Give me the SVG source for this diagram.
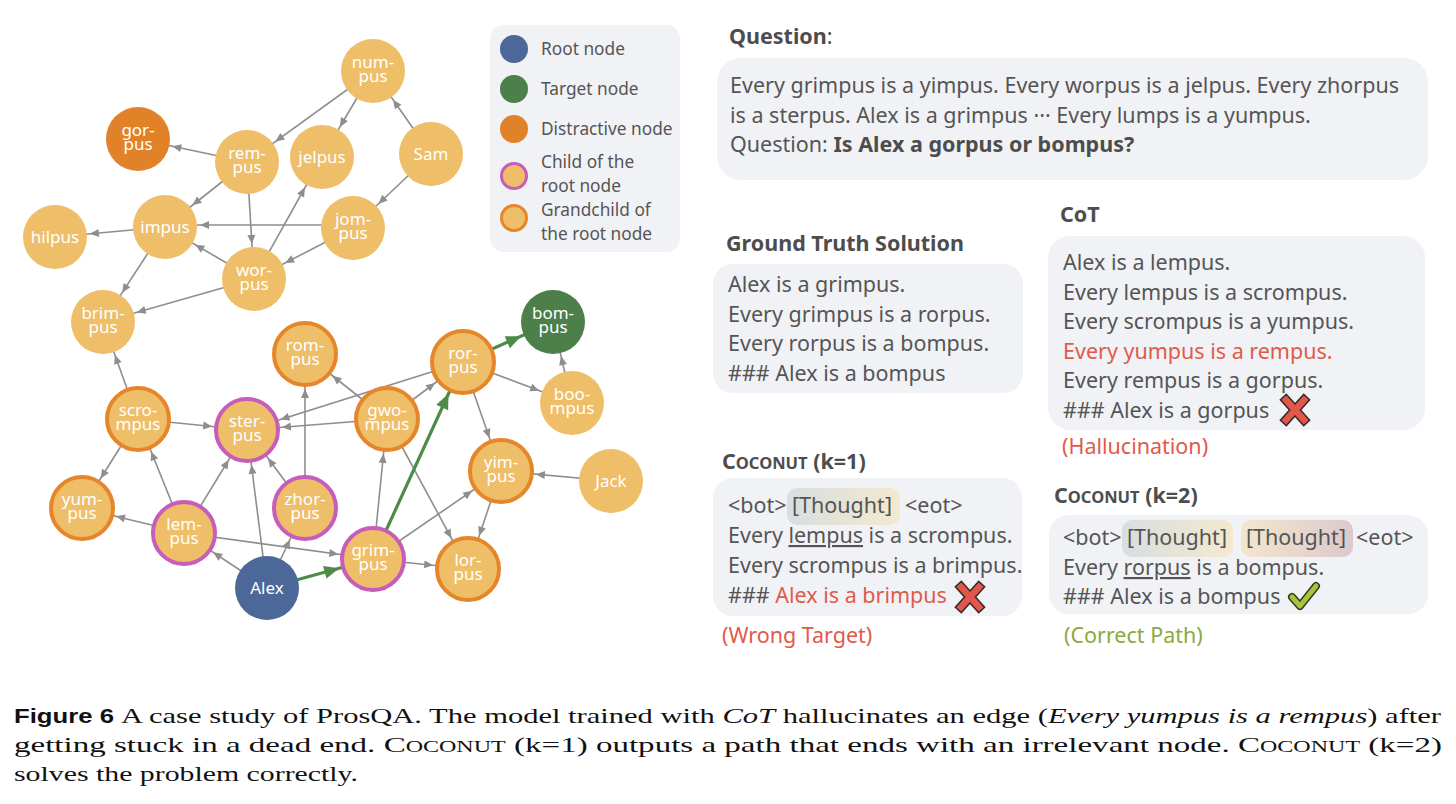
<svg xmlns="http://www.w3.org/2000/svg" width="1456" height="804" viewBox="0 0 1456 804">
<defs>
<style>
.n{fill:#EFBE68}
.ob{fill:#EFBE68;stroke:#E6862A;stroke-width:4}
.pb{fill:#EFBE68;stroke:#C65DBA;stroke-width:4}
.lbl{fill:#fff;font-family:"Noto Sans",sans-serif;font-size:17px;text-anchor:middle}
.e{stroke:#8E8E8E;stroke-width:1.6;fill:none;marker-end:url(#ah)}
.g{stroke:#4E8A48;stroke-width:3.2;fill:none;marker-end:url(#gh)}
.leg{fill:#555;font-family:"Noto Sans",sans-serif;font-size:17.3px}
.box{fill:#F1F2F5}
.t{fill:#555;font-family:"Noto Sans",sans-serif;font-size:21.5px}
.h{fill:#4D4D4D;font-family:"Noto Sans",sans-serif;font-size:21.5px;font-weight:bold}
.red{fill:#E05A4A}
.cap{fill:#111;font-family:"Liberation Serif",serif;font-size:22px}
</style>
<marker id="ah" markerUnits="userSpaceOnUse" orient="auto" refX="0" refY="0" markerWidth="1" markerHeight="1" style="overflow:visible">
<path d="M-35,0 L-44,-4 L-44,4 Z" fill="#8E8E8E"/>
</marker>
<marker id="gh" markerUnits="userSpaceOnUse" orient="auto" refX="0" refY="0" markerWidth="1" markerHeight="1" style="overflow:visible">
<path d="M-35,0 L-50,-6.5 L-50,6.5 Z" fill="#4E8A48"/>
</marker>
<linearGradient id="th1" x1="0" y1="0" x2="1" y2="0">
<stop offset="0" stop-color="#D8DEE0"/><stop offset="1" stop-color="#F4E9CE"/>
</linearGradient>
<linearGradient id="th2" x1="0" y1="0" x2="1" y2="0">
<stop offset="0" stop-color="#F4E6CC"/><stop offset="1" stop-color="#DCC9CC"/>
</linearGradient>
</defs>
<rect width="1456" height="804" fill="#fff"/>

<g id="connectors">
<line class="e" x1="373" y1="71" x2="247" y2="162"/>
<line class="e" x1="373" y1="71" x2="322" y2="157"/>
<line class="e" x1="431" y1="154" x2="373" y2="71"/>
<line class="e" x1="431" y1="154" x2="353" y2="228"/>
<line class="e" x1="247" y1="162" x2="138" y2="139"/>
<line class="e" x1="247" y1="162" x2="165" y2="227"/>
<line class="e" x1="247" y1="162" x2="254" y2="279"/>
<line class="e" x1="254" y1="279" x2="322" y2="157"/>
<line class="e" x1="353" y1="225" x2="165" y2="225"/>
<line class="e" x1="353" y1="228" x2="254" y2="279"/>
<line class="e" x1="254" y1="279" x2="165" y2="227"/>
<line class="e" x1="165" y1="227" x2="55" y2="237"/>
<line class="e" x1="165" y1="227" x2="103" y2="322"/>
<line class="e" x1="254" y1="279" x2="103" y2="322"/>
<line class="e" x1="138" y1="419" x2="103" y2="322"/>
<line class="e" x1="138" y1="419" x2="247" y2="430"/>
<line class="e" x1="138" y1="419" x2="82" y2="508"/>
<line class="e" x1="184" y1="533" x2="138" y2="419"/>
<line class="e" x1="184" y1="533" x2="247" y2="430"/>
<line class="e" x1="184" y1="533" x2="82" y2="508"/>
<line class="e" x1="184" y1="533" x2="373" y2="559"/>
<line class="e" x1="267" y1="588" x2="184" y2="533"/>
<line class="e" x1="267" y1="588" x2="247" y2="430"/>
<line class="e" x1="267" y1="588" x2="305" y2="508"/>
<line class="e" x1="305" y1="508" x2="247" y2="430"/>
<line class="e" x1="305" y1="508" x2="305" y2="354"/>
<line class="e" x1="387" y1="419" x2="305" y2="354"/>
<line class="e" x1="387" y1="419" x2="247" y2="430"/>
<line class="e" x1="463" y1="362" x2="247" y2="430"/>
<line class="e" x1="387" y1="419" x2="463" y2="362"/>
<line class="e" x1="387" y1="419" x2="468" y2="569"/>
<line class="e" x1="373" y1="559" x2="387" y2="419"/>
<line class="e" x1="373" y1="559" x2="501" y2="471"/>
<line class="e" x1="373" y1="559" x2="468" y2="569"/>
<line class="e" x1="463" y1="362" x2="572" y2="403"/>
<line class="e" x1="463" y1="362" x2="501" y2="471"/>
<line class="e" x1="572" y1="403" x2="553" y2="322"/>
<line class="e" x1="611" y1="481" x2="501" y2="471"/>
<line class="e" x1="501" y1="471" x2="468" y2="569"/>
<line class="g" x1="267" y1="588" x2="373" y2="559"/>
<line class="g" x1="373" y1="559" x2="463" y2="362"/>
<line class="g" x1="463" y1="362" x2="553" y2="322"/>
</g>

<g id="node-numpus"><circle class="n" cx="373" cy="71" r="32"/><text class="lbl" x="373" y="68">num-<tspan x="373" dy="14">pus</tspan></text></g>
<g id="node-gorpus"><circle cx="138" cy="139" r="32" fill="#E18228"/><text class="lbl" x="138" y="136">gor-<tspan x="138" dy="14">pus</tspan></text></g>
<g id="node-rempus"><circle class="n" cx="247" cy="162" r="32"/><text class="lbl" x="247" y="159">rem-<tspan x="247" dy="14">pus</tspan></text></g>
<g id="node-jelpus"><circle class="n" cx="322" cy="157" r="32"/><text class="lbl" x="322" y="163">jelpus</text></g>
<g id="node-sam"><circle class="n" cx="431" cy="154" r="32"/><text class="lbl" x="431" y="160">Sam</text></g>
<g id="node-impus"><circle class="n" cx="165" cy="227" r="32"/><text class="lbl" x="165" y="233">impus</text></g>
<g id="node-hilpus"><circle class="n" cx="55" cy="237" r="32"/><text class="lbl" x="55" y="243">hilpus</text></g>
<g id="node-jompus"><circle class="n" cx="353" cy="228" r="32"/><text class="lbl" x="353" y="225">jom-<tspan x="353" dy="14">pus</tspan></text></g>
<g id="node-worpus"><circle class="n" cx="254" cy="279" r="32"/><text class="lbl" x="254" y="276">wor-<tspan x="254" dy="14">pus</tspan></text></g>
<g id="node-brimpus"><circle class="n" cx="103" cy="322" r="32"/><text class="lbl" x="103" y="319">brim-<tspan x="103" dy="14">pus</tspan></text></g>
<g id="node-rompus"><circle class="ob" cx="305" cy="354" r="31"/><text class="lbl" x="305" y="351">rom-<tspan x="305" dy="14">pus</tspan></text></g>
<g id="node-scrompus"><circle class="ob" cx="138" cy="419" r="31"/><text class="lbl" x="138" y="416">scro-<tspan x="138" dy="14">mpus</tspan></text></g>
<g id="node-sterpus"><circle class="pb" cx="247" cy="430" r="31"/><text class="lbl" x="247" y="427">ster-<tspan x="247" dy="14">pus</tspan></text></g>
<g id="node-gwompus"><circle class="ob" cx="387" cy="419" r="31"/><text class="lbl" x="387" y="416">gwo-<tspan x="387" dy="14">mpus</tspan></text></g>
<g id="node-rorpus"><circle class="ob" cx="463" cy="362" r="31"/><text class="lbl" x="463" y="359">ror-<tspan x="463" dy="14">pus</tspan></text></g>
<g id="node-bompus"><circle cx="553" cy="322" r="32" fill="#4C7F49"/><text class="lbl" x="553" y="319">bom-<tspan x="553" dy="14">pus</tspan></text></g>
<g id="node-boompus"><circle class="n" cx="572" cy="403" r="32"/><text class="lbl" x="572" y="400">boo-<tspan x="572" dy="14">mpus</tspan></text></g>
<g id="node-yimpus"><circle class="ob" cx="501" cy="471" r="31"/><text class="lbl" x="501" y="468">yim-<tspan x="501" dy="14">pus</tspan></text></g>
<g id="node-jack"><circle class="n" cx="611" cy="481" r="32"/><text class="lbl" x="611" y="487">Jack</text></g>
<g id="node-yumpus"><circle class="ob" cx="82" cy="508" r="31"/><text class="lbl" x="82" y="505">yum-<tspan x="82" dy="14">pus</tspan></text></g>
<g id="node-lempus"><circle class="pb" cx="184" cy="533" r="31"/><text class="lbl" x="184" y="530">lem-<tspan x="184" dy="14">pus</tspan></text></g>
<g id="node-zhorpus"><circle class="pb" cx="305" cy="508" r="31"/><text class="lbl" x="305" y="505">zhor-<tspan x="305" dy="14">pus</tspan></text></g>
<g id="node-grimpus"><circle class="pb" cx="373" cy="559" r="31"/><text class="lbl" x="373" y="556">grim-<tspan x="373" dy="14">pus</tspan></text></g>
<g id="node-lorpus"><circle class="ob" cx="468" cy="569" r="31"/><text class="lbl" x="468" y="566">lor-<tspan x="468" dy="14">pus</tspan></text></g>
<g id="node-alex"><circle cx="267" cy="588" r="32" fill="#4B6898"/><text class="lbl" x="267" y="594">Alex</text></g>

<g id="legend">
<rect x="490" y="25" width="190" height="227" rx="14" class="box"/>
<circle cx="514" cy="49" r="14" fill="#4B6898"/>
<circle cx="514" cy="89" r="14" fill="#4C7F49"/>
<circle cx="514" cy="129" r="14" fill="#E18228"/>
<circle cx="514" cy="176" r="12.5" fill="#EFBE68" stroke="#C65DBA" stroke-width="3"/>
<circle cx="514" cy="218" r="12.5" fill="#EFBE68" stroke="#E6862A" stroke-width="3"/>
<text class="leg" x="541" y="55">Root node</text>
<text class="leg" x="541" y="95">Target node</text>
<text class="leg" x="541" y="135">Distractive node</text>
<text class="leg" x="541" y="168">Child of the<tspan x="541" dy="24">root node</tspan></text>
<text class="leg" x="541" y="216">Grandchild of<tspan x="541" dy="24">the root node</tspan></text>
</g>

<g id="question">
<text class="h" x="729" y="44">Question<tspan font-weight="normal">:</tspan></text>
<rect x="717" y="58" width="711" height="122" rx="24" class="box"/>
<text class="t" x="730" y="93">Every grimpus is a yimpus. Every worpus is a jelpus. Every zhorpus</text>
<text class="t" x="730" y="123">is a sterpus. Alex is a grimpus ··· Every lumps is a yumpus.</text>
<text class="t" x="730" y="152">Question: <tspan font-weight="bold" fill="#4D4D4D">Is Alex a gorpus or bompus?</tspan></text>
</g>

<g id="ground-truth">
<text class="h" x="726" y="251">Ground Truth Solution</text>
<rect x="713" y="264" width="310" height="129" rx="20" class="box"/>
<text class="t" x="728" y="292">Alex is a grimpus.</text>
<text class="t" x="728" y="322">Every grimpus is a rorpus.</text>
<text class="t" x="728" y="351">Every rorpus is a bompus.</text>
<text class="t" x="728" y="381">### Alex is a bompus</text>
</g>

<g id="cot">
<text class="h" x="1060" y="222">CoT</text>
<rect x="1048" y="236" width="377" height="194" rx="22" class="box"/>
<text class="t" x="1063" y="270">Alex is a lempus.</text>
<text class="t" x="1063" y="300">Every lempus is a scrompus.</text>
<text class="t" x="1063" y="329">Every scrompus is a yumpus.</text>
<text class="t red" x="1063" y="359">Every yumpus is a rempus.</text>
<text class="t" x="1063" y="388">Every rempus is a gorpus.</text>
<text class="t" x="1063" y="418">### Alex is a gorpus</text>
<g transform="translate(1295,410)">
<path d="M-9,-10 L9,10 M9,-10 L-9,10" stroke="#3A2A28" stroke-width="9.5" stroke-linecap="square"/>
<path d="M-9,-10 L9,10 M9,-10 L-9,10" stroke="#E2574C" stroke-width="6.5" stroke-linecap="square"/>
</g>
<text class="t red" x="1062" y="454">(Hallucination)</text>
</g>

<g id="coconut1">
<text class="h" x="722" y="469">C<tspan font-size="16.5px">OCONUT</tspan> (k=1)</text>
<rect x="713" y="478" width="309" height="138" rx="20" class="box"/>
<rect x="787" y="488" width="113" height="37" rx="10" fill="url(#th1)"/>
<text class="t" x="728" y="513">&lt;bot&gt;</text>
<text class="t" x="792" y="513">[Thought]</text>
<text class="t" x="905" y="513">&lt;eot&gt;</text>
<text class="t" x="728" y="543">Every <tspan text-decoration="underline">lempus</tspan> is a scrompus.</text>
<text class="t" x="728" y="573">Every scrompus is a brimpus.</text>
<text class="t" x="728" y="603">### <tspan fill="#E05A4A">Alex is a brimpus</tspan></text>
<g transform="translate(970,597)">
<path d="M-9,-10 L9,10 M9,-10 L-9,10" stroke="#3A2A28" stroke-width="9.5" stroke-linecap="square"/>
<path d="M-9,-10 L9,10 M9,-10 L-9,10" stroke="#E2574C" stroke-width="6.5" stroke-linecap="square"/>
</g>
<text class="t red" x="722" y="643">(Wrong Target)</text>
</g>

<g id="coconut2">
<text class="h" x="1054" y="503">C<tspan font-size="16.5px">OCONUT</tspan> (k=2)</text>
<rect x="1049" y="515" width="379" height="99" rx="20" class="box"/>
<rect x="1122" y="520" width="111" height="37" rx="10" fill="url(#th1)"/>
<rect x="1241" y="520" width="112" height="37" rx="10" fill="url(#th2)"/>
<text class="t" x="1063" y="545">&lt;bot&gt;</text>
<text class="t" x="1127" y="545">[Thought]</text>
<text class="t" x="1246" y="545">[Thought]</text>
<text class="t" x="1356" y="545">&lt;eot&gt;</text>
<text class="t" x="1063" y="575">Every <tspan text-decoration="underline">rorpus</tspan> is a bompus.</text>
<text class="t" x="1063" y="604">### Alex is a bompus</text>
<g transform="translate(1304,597)">
<path d="M-12,0 L-4,9 L12,-11" stroke="#3A3A20" stroke-width="8" fill="none" stroke-linejoin="round" stroke-linecap="round"/>
<path d="M-12,0 L-4,9 L12,-11" stroke="#A6C43C" stroke-width="5" fill="none" stroke-linejoin="round" stroke-linecap="round"/>
</g>
<text class="t" x="1064" y="643" style="fill:#8BAA3D">(Correct Path)</text>
</g>

<g id="caption">
<text x="14" y="723" font-family="'Liberation Sans',sans-serif" font-weight="bold" font-size="21px" fill="#111" textLength="100" lengthAdjust="spacingAndGlyphs">Figure 6</text>
<text class="cap" x="121" y="723" textLength="1320" lengthAdjust="spacingAndGlyphs">A case study of ProsQA. The model trained with <tspan font-style="italic">CoT</tspan> hallucinates an edge (<tspan font-style="italic">Every yumpus is a rempus</tspan>) after</text>
<text class="cap" x="14" y="752" textLength="1428" lengthAdjust="spacingAndGlyphs">getting stuck in a dead end. C<tspan font-size="16px">OCONUT</tspan> (k=1) outputs a path that ends with an irrelevant node. C<tspan font-size="16px">OCONUT</tspan> (k=2)</text>
<text class="cap" x="14" y="781" textLength="344" lengthAdjust="spacingAndGlyphs">solves the problem correctly.</text>
</g>
</svg>
